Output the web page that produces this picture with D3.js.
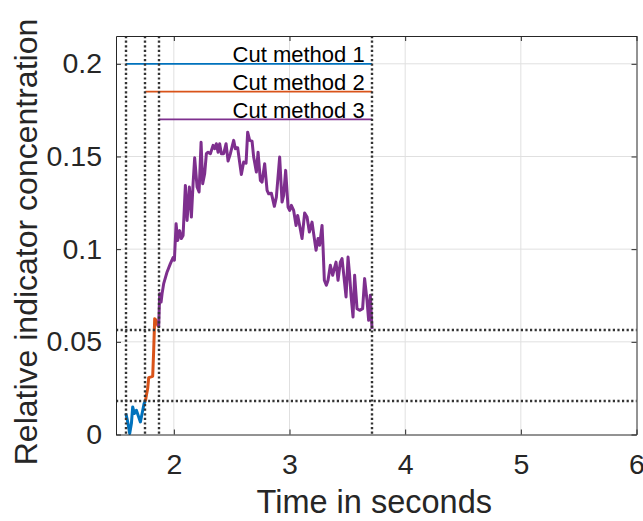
<!DOCTYPE html>
<html>
  <head>
    <meta charset="utf-8">
    <title>Cut methods</title>
    <script src="https://d3js.org/d3.v7.min.js"></script>
    <style>
      body { margin: 0; background: #fff; }
      svg { display: block; font-family: "Liberation Sans", Arial, Helvetica, sans-serif; }
      .tick text { fill: #262626; }
    </style>
  </head>
  <body>
    <svg id="chart" width="643" height="521"></svg>
    <script>
      // axis setup
      const xDomain = [1.5, 6];
      const yDomain = [0, 0.215];
      const xTicks = [2, 3, 4, 5, 6];
      const yTicks = [0, 0.05, 0.1, 0.15, 0.2];
      const yTickLabels = ["0", "0.05", "0.1", "0.15", "0.2"];

      // cut method 1 (blue) segment
      const blueTime = [1.5856, 1.6011, 1.6184, 1.6331, 1.6443, 1.6590, 1.6763, 1.6962, 1.7109, 1.7256, 1.7429, 1.7541];
      const blueValue = [0.0113, 0.0068, 0.0005, 0.0059, 0.0149, 0.0113, 0.0131, 0.0095, 0.0068, 0.0113, 0.0167, 0.0180];
      // cut method 2 (orange) segment
      const orangeTime = [1.7541, 1.7628, 1.7740, 1.7826, 1.8034, 1.8172, 1.8258, 1.8345, 1.8466, 1.8604, 1.8691];
      const orangeValue = [0.0180, 0.0212, 0.0248, 0.0307, 0.0311, 0.0314, 0.0454, 0.0625, 0.0616, 0.0589, 0.0580];
      // cut method 3 (purple) segment
      const purpleTime = [1.8691, 1.8777, 1.8898, 1.8984, 1.9123, 1.9417, 1.9702, 1.9935, 2.0048, 2.0194,
        2.0333, 2.0506, 2.0653, 2.0800, 2.0998, 2.1145, 2.1344, 2.1517, 2.1664, 2.1802,
        2.2010, 2.2182, 2.2355, 2.2494, 2.2666, 2.2813, 2.2960, 2.3159, 2.3392, 2.3531,
        2.3678, 2.3825, 2.3963, 2.4110, 2.4309, 2.4516, 2.4689, 2.4888, 2.5173, 2.5320,
        2.5519, 2.5666, 2.5838, 2.6037, 2.6245, 2.6383, 2.6556, 2.6763, 2.6902, 2.7135,
        2.7282, 2.7481, 2.7628, 2.7852, 2.8060, 2.8198, 2.8431, 2.8691, 2.8864, 2.9149,
        2.9356, 2.9494, 2.9667, 2.9875, 3.0013, 3.0160, 3.0359, 3.0566, 3.0704, 3.0877,
        3.1085, 3.1310, 3.1517, 3.1716, 3.1949, 3.2087, 3.2295, 3.2468, 3.2606, 3.2813,
        3.2900, 3.3012, 3.3185, 3.3332, 3.3531, 3.3730, 3.3876, 3.4023, 3.4196, 3.4395,
        3.4542, 3.4680, 3.4888, 3.5061, 3.5199, 3.5320, 3.5493, 3.5631, 3.5838, 3.6063,
        3.6322, 3.6495, 3.6702, 3.6841, 3.6988, 3.7135];
      const purpleValue = [0.0580, 0.0760, 0.0715, 0.0760, 0.0814, 0.0877, 0.0922, 0.0954, 0.0940, 0.1137,
        0.1047, 0.1100, 0.1057, 0.1074, 0.1344, 0.1155, 0.1335, 0.1173, 0.1353, 0.1493,
        0.1335, 0.1308, 0.1577, 0.1353, 0.1407, 0.1515, 0.1523, 0.1515, 0.1560, 0.1542,
        0.1569, 0.1523, 0.1569, 0.1515, 0.1515, 0.1569, 0.1475, 0.1515, 0.1587, 0.1542,
        0.1547, 0.1479, 0.1403, 0.1470, 0.1464, 0.1631, 0.1587, 0.1583, 0.1497, 0.1416,
        0.1523, 0.1371, 0.1362, 0.1461, 0.1317, 0.1299, 0.1302, 0.1231, 0.1281, 0.1497,
        0.1254, 0.1290, 0.1425, 0.1227, 0.1209, 0.1236, 0.1209, 0.1128, 0.1182, 0.1128,
        0.1057, 0.1195, 0.1173, 0.1092, 0.1146, 0.1084, 0.0994, 0.1057, 0.1021, 0.1128,
        0.1011, 0.0832, 0.0805, 0.0832, 0.0913, 0.0859, 0.0895, 0.0930, 0.0832, 0.0930,
        0.0949, 0.0868, 0.0742, 0.0957, 0.0859, 0.0751, 0.0634, 0.0859, 0.0679, 0.0670,
        0.0679, 0.0841, 0.0724, 0.0616, 0.0751, 0.0570];

      // cut method bars: label, level, start; all end at cutEnd
      const cutLabels = ["Cut method 1", "Cut method 2", "Cut method 3"];
      const cutLevels = [0.2, 0.185, 0.17];
      const cutStarts = [1.5856, 1.7541, 1.8691];
      const cutEnd = 3.7135;
      const cutColours = ["#0072BD", "#D95319", "#7E2F8E"];
      // threshold lines
      const thresholdLevels = [0.0180, 0.0566];

      const svg = d3.select("#chart");
      const margin = { top: 36, right: 6.5, bottom: 86.5, left: 116 };
      const width = 643, height = 521;
      const x = d3.scaleLinear().domain(xDomain).range([margin.left, width - margin.right]);
      const y = d3.scaleLinear().domain(yDomain).range([height - margin.bottom, margin.top]);
      const ink = "#262626";

      // grid
      svg.append("g")
        .selectAll("line")
          .data(xTicks.filter(d => d < xDomain[1]))
        .enter().append("line")
          .attr("x1", d => x(d)).attr("x2", d => x(d))
          .attr("y1", y(yDomain[0])).attr("y2", y(yDomain[1]))
          .attr("stroke", "#e0e0e0").attr("stroke-width", 1);
      svg.append("g")
        .selectAll("line")
          .data(yTicks.filter(d => d > yDomain[0]))
        .enter().append("line")
          .attr("x1", x(xDomain[0])).attr("x2", x(xDomain[1]))
          .attr("y1", d => y(d)).attr("y2", d => y(d))
          .attr("stroke", "#e0e0e0").attr("stroke-width", 1);

      // data segments
      const line = d3.line().x(d => x(d[0])).y(d => y(d[1]));
      const segments = [
        { t: blueTime, v: blueValue, c: cutColours[0] },
        { t: orangeTime, v: orangeValue, c: cutColours[1] },
        { t: purpleTime, v: purpleValue, c: cutColours[2] }
      ];
      segments.forEach(s => {
        svg.append("path")
          .datum(d3.zip(s.t, s.v))
          .attr("d", line)
          .attr("fill", "none")
          .attr("stroke", s.c)
          .attr("stroke-width", 3)
          .attr("stroke-linejoin", "round");
      });

      // cut method lines and labels
      cutLabels.forEach((label, i) => {
        svg.append("line")
          .attr("x1", x(cutStarts[i])).attr("x2", x(cutEnd))
          .attr("y1", y(cutLevels[i])).attr("y2", y(cutLevels[i]))
          .attr("stroke", cutColours[i]).attr("stroke-width", 1.7);
        svg.append("text")
          .attr("x", x(3.65))
          .attr("y", y(cutLevels[i]) - 1.5)
          .attr("text-anchor", "end")
          .attr("font-size", 22)
          .attr("fill", "#000")
          .text(label);
      });

      // dotted markers
      const dotted = svg.append("g")
        .attr("stroke", "#333")
        .attr("stroke-width", 2.4)
        .attr("stroke-dasharray", "2.2,2.4");
      cutStarts.concat([cutEnd]).forEach(t => {
        const px = Math.round(x(t));
        dotted.append("line")
          .attr("x1", px).attr("x2", px)
          .attr("y1", y(yDomain[1])).attr("y2", y(yDomain[0]));
      });
      thresholdLevels.forEach(v => {
        const py = Math.round(y(v));
        dotted.append("line")
          .attr("x1", x(xDomain[0])).attr("x2", x(xDomain[1]))
          .attr("y1", py).attr("y2", py);
      });

      // axes (inward ticks, box)
      svg.append("g")
        .attr("transform", "translate(0," + y(yDomain[0]) + ")")
        .call(d3.axisBottom(x).tickValues(xTicks).tickFormat(d3.format("d")).tickSizeInner(-5).tickSizeOuter(0).tickPadding(19));
      svg.append("g")
        .attr("transform", "translate(" + x(xDomain[0]) + ",0)")
        .call(d3.axisLeft(y).tickValues(yTicks).tickFormat((d, i) => yTickLabels[i]).tickSizeInner(-5).tickSizeOuter(0).tickPadding(14));
      svg.append("g")
        .attr("transform", "translate(0," + y(yDomain[1]) + ")")
        .call(d3.axisTop(x).tickValues(xTicks).tickFormat("").tickSizeInner(-5).tickSizeOuter(0));
      svg.append("g")
        .attr("transform", "translate(" + x(xDomain[1]) + ",0)")
        .call(d3.axisRight(y).tickValues(yTicks).tickFormat("").tickSizeInner(-5).tickSizeOuter(0));
      svg.selectAll(".domain, .tick line").attr("stroke", ink).attr("stroke-width", 1);
      svg.selectAll(".tick text").attr("font-size", 28.5).attr("font-family", null);

      // axis labels
      svg.append("text")
        .attr("x", (x(xDomain[0]) + x(xDomain[1])) / 2 - 2)
        .attr("y", 513)
        .attr("text-anchor", "middle")
        .attr("font-size", 32.5)
        .attr("fill", ink)
        .text("Time in seconds");
      svg.append("text")
        .attr("transform", "translate(37," + 242 + ") rotate(-90)")
        .attr("text-anchor", "middle")
        .attr("font-size", 32)
        .attr("fill", ink)
        .text("Relative indicator concentration");
    </script>
  </body>
</html>
